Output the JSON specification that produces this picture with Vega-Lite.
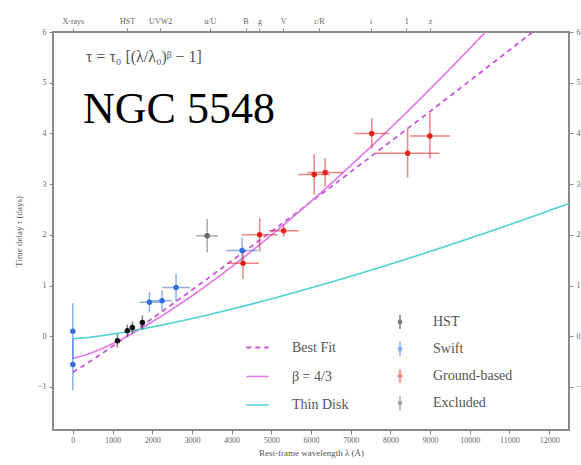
{
  "$schema": "https://vega.github.io/schema/vega-lite/v6.json",
  "width": 516,
  "height": 398,
  "autosize": {"type": "none"},
  "padding": {"left": 53, "top": 32, "right": 12, "bottom": 35},
  "background": "white",
  "config": {
    "view": {"stroke": "#8a8a8a", "strokeWidth": 2},
    "font": "Liberation Serif",
    "axis": {"domain": false, "grid": false, "labelFont": "Liberation Serif", "titleFont": "Liberation Serif", "labelColor": "#666", "titleColor": "#555", "tickColor": "#8a8a8a", "labelFontSize": 8, "titleFontSize": 9, "titleFontWeight": "normal"},
    "legend": {"labelFont": "Liberation Serif", "labelFontSize": 14, "labelColor": "#555", "padding": 0}
  },
  "datasets": {
    "curves": [
      {"model": "Best Fit", "lam": 0, "tau": -0.71},
      {"model": "Best Fit", "lam": 250, "tau": -0.591},
      {"model": "Best Fit", "lam": 500, "tau": -0.463},
      {"model": "Best Fit", "lam": 750, "tau": -0.332},
      {"model": "Best Fit", "lam": 1000, "tau": -0.199},
      {"model": "Best Fit", "lam": 1367, "tau": 0},
      {"model": "Best Fit", "lam": 2000, "tau": 0.349},
      {"model": "Best Fit", "lam": 3000, "tau": 0.912},
      {"model": "Best Fit", "lam": 4000, "tau": 1.485},
      {"model": "Best Fit", "lam": 5000, "tau": 2.064},
      {"model": "Best Fit", "lam": 6000, "tau": 2.65},
      {"model": "Best Fit", "lam": 7000, "tau": 3.241},
      {"model": "Best Fit", "lam": 8000, "tau": 3.837},
      {"model": "Best Fit", "lam": 9000, "tau": 4.435},
      {"model": "Best Fit", "lam": 10000, "tau": 5.038},
      {"model": "Best Fit", "lam": 11000, "tau": 5.643},
      {"model": "Best Fit", "lam": 12000, "tau": 6.253},
      {"model": "β = 4/3", "lam": 0, "tau": -0.43},
      {"model": "β = 4/3", "lam": 250, "tau": -0.385},
      {"model": "β = 4/3", "lam": 500, "tau": -0.318},
      {"model": "β = 4/3", "lam": 750, "tau": -0.237},
      {"model": "β = 4/3", "lam": 1000, "tau": -0.147},
      {"model": "β = 4/3", "lam": 1367, "tau": 0},
      {"model": "β = 4/3", "lam": 2000, "tau": 0.284},
      {"model": "β = 4/3", "lam": 3000, "tau": 0.796},
      {"model": "β = 4/3", "lam": 4000, "tau": 1.37},
      {"model": "β = 4/3", "lam": 5000, "tau": 1.993},
      {"model": "β = 4/3", "lam": 6000, "tau": 2.66},
      {"model": "β = 4/3", "lam": 7000, "tau": 3.365},
      {"model": "β = 4/3", "lam": 8000, "tau": 4.104},
      {"model": "β = 4/3", "lam": 9000, "tau": 4.875},
      {"model": "β = 4/3", "lam": 10000, "tau": 5.676},
      {"model": "β = 4/3", "lam": 10500, "tau": 6.087},
      {"model": "Thin Disk", "lam": 0, "tau": -0.05},
      {"model": "Thin Disk", "lam": 500, "tau": -0.014},
      {"model": "Thin Disk", "lam": 1000, "tau": 0.042},
      {"model": "Thin Disk", "lam": 1500, "tau": 0.108},
      {"model": "Thin Disk", "lam": 2000, "tau": 0.182},
      {"model": "Thin Disk", "lam": 3000, "tau": 0.348},
      {"model": "Thin Disk", "lam": 4000, "tau": 0.534},
      {"model": "Thin Disk", "lam": 5000, "tau": 0.737},
      {"model": "Thin Disk", "lam": 6000, "tau": 0.953},
      {"model": "Thin Disk", "lam": 7000, "tau": 1.182},
      {"model": "Thin Disk", "lam": 8000, "tau": 1.422},
      {"model": "Thin Disk", "lam": 9000, "tau": 1.672},
      {"model": "Thin Disk", "lam": 10000, "tau": 1.932},
      {"model": "Thin Disk", "lam": 11000, "tau": 2.199},
      {"model": "Thin Disk", "lam": 12000, "tau": 2.477},
      {"model": "Thin Disk", "lam": 12500, "tau": 2.618}
    ],
    "points": [
      {"group": "Swift", "lam": 0, "tau": 0.1, "tlo": -0.45, "thi": 0.65, "llo": 0, "lhi": 0},
      {"group": "Swift", "lam": 0, "tau": -0.56, "tlo": -1.07, "thi": -0.06, "llo": 0, "lhi": 0},
      {"group": "HST", "lam": 1123, "tau": -0.09, "tlo": -0.22, "thi": 0.04, "llo": 1100, "lhi": 1146},
      {"group": "HST", "lam": 1374, "tau": 0.11, "tlo": -0.01, "thi": 0.23, "llo": 1350, "lhi": 1398},
      {"group": "HST", "lam": 1500, "tau": 0.17, "tlo": 0.05, "thi": 0.29, "llo": 1475, "lhi": 1525},
      {"group": "HST", "lam": 1751, "tau": 0.27, "tlo": 0.13, "thi": 0.41, "llo": 1720, "lhi": 1780},
      {"group": "Swift", "lam": 1928, "tau": 0.67, "tlo": 0.47, "thi": 0.87, "llo": 1678, "lhi": 2178},
      {"group": "Swift", "lam": 2246, "tau": 0.7, "tlo": 0.5, "thi": 0.9, "llo": 1996, "lhi": 2496},
      {"group": "Swift", "lam": 2600, "tau": 0.96, "tlo": 0.69, "thi": 1.23, "llo": 2250, "lhi": 2950},
      {"group": "Swift", "lam": 4264, "tau": 1.69, "tlo": 1.44, "thi": 1.94, "llo": 3864, "lhi": 4664},
      {"group": "Ground-based", "lam": 4288, "tau": 1.44, "tlo": 1.13, "thi": 1.75, "llo": 3888, "lhi": 4688},
      {"group": "Ground-based", "lam": 4706, "tau": 2.0, "tlo": 1.67, "thi": 2.33, "llo": 4256, "lhi": 5156},
      {"group": "Ground-based", "lam": 5310, "tau": 2.08, "tlo": 1.96, "thi": 2.2, "llo": 4930, "lhi": 5690},
      {"group": "Ground-based", "lam": 6080, "tau": 3.19, "tlo": 2.79, "thi": 3.59, "llo": 5680, "lhi": 6480},
      {"group": "Ground-based", "lam": 6357, "tau": 3.23, "tlo": 2.95, "thi": 3.51, "llo": 5907, "lhi": 6807},
      {"group": "Ground-based", "lam": 7530, "tau": 4.0, "tlo": 3.7, "thi": 4.3, "llo": 7090, "lhi": 7970},
      {"group": "Ground-based", "lam": 8435, "tau": 3.61, "tlo": 3.13, "thi": 4.09, "llo": 7635, "lhi": 9235},
      {"group": "Ground-based", "lam": 8995, "tau": 3.95, "tlo": 3.5, "thi": 4.4, "llo": 8495, "lhi": 9495},
      {"group": "Excluded", "lam": 3384, "tau": 1.98, "tlo": 1.65, "thi": 2.31, "llo": 3110, "lhi": 3660}
    ],
    "texts": [
      {"label": "NGC 5548", "lam": 256, "tau": 4.205}
    ],
    "formula": [
      {"label": "τ = τ₀ [(λ/λ₀)ᵝ − 1]", "lam": 330, "tau": 5.5}
    ]
  },
  "layer": [
    {
      "data": {"name": "curves"},
      "mark": {"type": "line", "clip": true, "interpolate": "monotone"},
      "encoding": {
        "x": {"field": "lam", "type": "quantitative", "scale": {"domain": [-500, 12500], "nice": false, "zero": false},
              "axis": {"orient": "bottom", "values": [0,1000,2000,3000,4000,5000,6000,7000,8000,9000,10000,11000,12000], "format": "d", "tickSize": 4, "labelPadding": 2, "title": "Rest-frame wavelength λ (Å)", "titlePadding": 4}},
        "y": {"field": "tau", "type": "quantitative", "scale": {"domain": [-1.85, 6], "nice": false, "zero": false},
              "axis": {"orient": "left", "values": [-1,0,1,2,3,4,5,6], "tickSize": 4, "labelPadding": 3, "title": "Time delay τ (days)", "titlePadding": 14}},
        "color": {"field": "model", "type": "nominal", "scale": {"domain": ["Best Fit", "β = 4/3", "Thin Disk"], "range": ["#c857dc", "#e27ae8", "#4fd3d0"]},
                  "legend": {"title": null, "orient": "none", "legendX": 192, "legendY": 303, "symbolType": "stroke", "symbolSize": 500, "rowPadding": 9, "labelOffset": 22}},
        "strokeDash": {"field": "model", "type": "nominal", "scale": {"domain": ["Best Fit", "β = 4/3", "Thin Disk"], "range": [[5, 4], [1, 0], [1, 0]]}, "legend": {"title": null, "orient": "none", "legendX": 192, "legendY": 303, "symbolType": "stroke", "symbolSize": 500, "rowPadding": 9, "labelOffset": 22}},
        "strokeWidth": {"field": "model", "type": "nominal", "scale": {"domain": ["Best Fit", "β = 4/3", "Thin Disk"], "range": [1.8, 1.6, 3.2]}, "legend": {"title": null, "orient": "none", "legendX": 192, "legendY": 303, "symbolType": "stroke", "symbolSize": 500, "rowPadding": 9, "labelOffset": 22}}
      }
    },
    {
      "data": {"name": "points"},
      "layer": [
        {
          "mark": {"type": "rule", "opacity": 0.55, "strokeWidth": 1.5},
          "encoding": {
            "x": {"field": "lam", "type": "quantitative", "axis": null},
            "y": {"field": "tlo", "type": "quantitative", "axis": null},
            "y2": {"field": "thi"},
            "color": {"field": "group", "type": "nominal", "scale": {"domain": ["HST", "Swift", "Ground-based", "Excluded"], "range": ["#111111", "#2f6fd6", "#e3201b", "#666666"]},
                      "legend": {"title": null, "orient": "none", "legendX": 340, "legendY": 283, "symbolType": "M0,-1.3L0,1.3M-0.3,0A0.3,0.3,0,1,1,0.3,0A0.3,0.3,0,1,1,-0.3,0Z", "symbolSize": 120, "symbolStrokeWidth": 1.5, "rowPadding": 5, "labelOffset": 26}}
          }
        },
        {
          "mark": {"type": "rule", "opacity": 0.55, "strokeWidth": 1.5},
          "encoding": {
            "x": {"field": "llo", "type": "quantitative", "axis": null},
            "x2": {"field": "lhi"},
            "y": {"field": "tau", "type": "quantitative", "axis": null},
            "color": {"field": "group", "type": "nominal"}
          }
        },
        {
          "mark": {"type": "point", "filled": true, "opacity": 1, "size": 30},
          "encoding": {
            "x": {"field": "lam", "type": "quantitative", "axis": null},
            "y": {"field": "tau", "type": "quantitative", "axis": null},
            "color": {"field": "group", "type": "nominal"}
          }
        }
      ]
    },
    {
      "data": {"name": "texts"},
      "mark": {"type": "text", "align": "left", "baseline": "alphabetic", "font": "Liberation Serif", "fontSize": 44, "color": "#000"},
      "encoding": {
        "x": {"field": "lam", "type": "quantitative",
              "axis": {"orient": "top", "values": [0, 1367, 2200, 3450, 4350, 4700, 5300, 6200, 7500, 8400, 9000], "tickSize": 4, "labelPadding": 3, "title": null,
                       "labelExpr": "datum.value == 0 ? 'X-rays' : datum.value == 1367 ? 'HST' : datum.value == 2200 ? 'UVW2' : datum.value == 3450 ? 'u/U' : datum.value == 4350 ? 'B' : datum.value == 4700 ? 'g' : datum.value == 5300 ? 'V' : datum.value == 6200 ? 'r/R' : datum.value == 7500 ? 'i' : datum.value == 8400 ? 'I' : 'z'"}},
        "y": {"field": "tau", "type": "quantitative",
              "axis": {"orient": "right", "values": [-1,0,1,2,3,4,5,6], "tickSize": 4, "labelPadding": 3, "title": null}},
        "text": {"field": "label"}
      }
    },
    {
      "data": {"name": "formula"},
      "mark": {"type": "text", "align": "left", "baseline": "middle", "font": "Liberation Serif", "fontSize": 16, "color": "#555"},
      "encoding": {
        "x": {"field": "lam", "type": "quantitative", "axis": null},
        "y": {"field": "tau", "type": "quantitative", "axis": null},
        "text": {"field": "label"}
      }
    }
  ],
  "resolve": {
    "scale": {"color": "independent"},
    "axis": {"x": "independent", "y": "independent"},
    "legend": {"color": "independent", "strokeDash": "independent", "strokeWidth": "independent"}
  }
}
